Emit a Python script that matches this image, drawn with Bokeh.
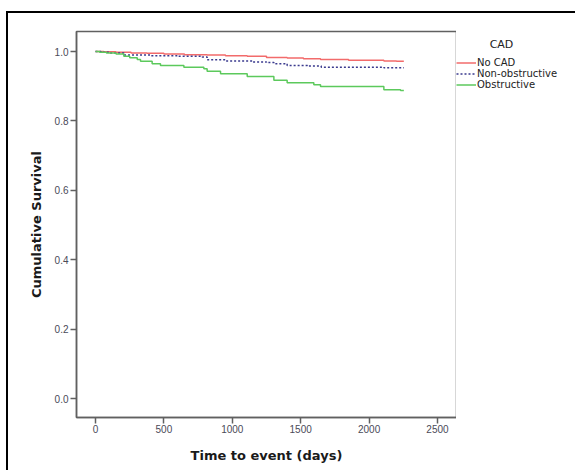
from bokeh.plotting import figure
from bokeh.layouts import row
from bokeh.models import Range1d, Legend, LegendItem, Label, FixedTicker
from bokeh.embed import file_html
from bokeh.resources import INLINE

# Kaplan-Meier step data (time in days, cumulative survival)
time_no_cad = [0, 60, 150, 260, 377, 500, 650, 816, 950, 1109, 1250, 1401, 1520, 1645, 1850, 2108, 2200, 2254]
surv_no_cad = [1.0, 0.999, 0.998, 0.996, 0.995, 0.993, 0.991, 0.990, 0.988, 0.986, 0.983, 0.981, 0.979, 0.977, 0.975, 0.973, 0.972, 0.972]

time_nonobs = [0, 40, 100, 207, 400, 600, 780, 816, 950, 1150, 1250, 1304, 1401, 1550, 1650, 2108, 2254]
surv_nonobs = [1.0, 0.998, 0.996, 0.990, 0.988, 0.986, 0.984, 0.976, 0.973, 0.970, 0.968, 0.965, 0.960, 0.958, 0.955, 0.953, 0.953]

time_obs = [0, 30, 80, 150, 207, 250, 305, 329, 414, 475, 646, 792, 816, 914, 1109, 1304, 1401, 1596, 1645, 2108, 2230, 2254]
surv_obs = [1.0, 0.998, 0.996, 0.993, 0.986, 0.982, 0.977, 0.972, 0.965, 0.960, 0.955, 0.950, 0.943, 0.936, 0.928, 0.917, 0.910, 0.904, 0.899, 0.890, 0.888, 0.888]

series_names = ["No CAD", "Non-obstructive", "Obstructive"]
series_colors = ["#f26b6b", "#3a3a8e", "#5cc95c"]
series_dash = ["solid", "2 2", "solid"]
legend_title = "CAD"

x_ticks = [0, 500, 1000, 1500, 2000, 2500]
x_tick_labels = ["0", "500", "1000", "1500", "2000", "2500"]
y_ticks = [0.0, 0.2, 0.4, 0.6, 0.8, 1.0]
y_tick_labels = ["0.0", "0.2", "0.4", "0.6", "0.8", "1.0"]

WP, H, WL = 450, 459, 119

p = figure(width=WP, height=H, output_backend="svg", toolbar_location=None,
           x_range=Range1d(-139, 2639), y_range=Range1d(-0.054, 1.0576),
           min_border_left=68, min_border_right=2, min_border_top=18, min_border_bottom=55,
           background_fill_color="white", border_fill_color="white")
p.styles = {"margin-top": "11px", "margin-left": "6px",
            "border-top": "2px solid black", "border-left": "2px solid black"}

series = [(time_no_cad, surv_no_cad), (time_nonobs, surv_nonobs), (time_obs, surv_obs)]
for (t, s), c, d in zip(series, series_colors, series_dash):
    p.step(t, s, mode="after", line_color=c, line_width=1.5, line_dash=d)

p.xgrid.visible = False
p.ygrid.visible = False
p.outline_line_color = "#606060"
p.outline_line_width = 1.5

for ax in (p.xaxis[0], p.yaxis[0]):
    ax.axis_line_color = "#606060"
    ax.axis_line_width = 1.5
    ax.major_tick_line_color = "#606060"
    ax.major_tick_line_width = 1.5
    ax.major_tick_in = 0
    ax.major_tick_out = 6
    ax.minor_tick_line_color = None
    ax.major_label_text_font = "Liberation Sans"
    ax.major_label_text_font_size = "10px"
    ax.major_label_text_color = "#4a4a58"
    ax.axis_label_text_font = "DejaVu Sans"
    ax.axis_label_text_font_style = "bold"
    ax.axis_label_text_font_size = "13px"
    ax.axis_label_text_color = "#1a1a1a"

p.xaxis.ticker = FixedTicker(ticks=x_ticks)
p.yaxis.ticker = FixedTicker(ticks=y_ticks)
p.xaxis.major_label_overrides = dict(zip(x_ticks, x_tick_labels))
p.yaxis.major_label_overrides = dict(zip(y_ticks, y_tick_labels))
p.xaxis.axis_label = "Time to event (days)"
p.yaxis.axis_label = "Cumulative Survival"
p.xaxis.major_label_standoff = 1
p.yaxis.major_label_standoff = 2
p.xaxis.axis_label_standoff = 12
p.yaxis.axis_label_standoff = 8

# legend panel (separate canvas so the legend is not clipped by the plot frame)
lf = figure(width=WL, height=H, output_backend="svg", toolbar_location=None,
            x_range=Range1d(0, WL), y_range=Range1d(H, 0),
            x_axis_location=None, y_axis_location=None, min_border=0,
            outline_line_color=None, background_fill_color="white", border_fill_color="white")
lf.grid.visible = False
lf.styles = {"margin-top": "11px", "border-top": "2px solid black"}

items = []
for name, (t, s), c, d in zip(series_names, series, series_colors, series_dash):
    # single-vertex proxy renderer: draws nothing, provides the legend glyph style
    r = lf.line(x=t[:1], y=s[:1], line_color=c, line_width=1.5, line_dash=d)
    items.append(LegendItem(label=name, renderers=[r]))

legend = Legend(items=items, location=(0, 327),
                margin=0, padding=0, glyph_width=20, glyph_height=11, label_height=11,
                label_standoff=1, spacing=0, border_line_color=None, background_fill_alpha=0,
                label_text_font="DejaVu Sans", label_text_font_size="10px", label_text_color="#222222")
lf.add_layout(legend, "center")
lf.add_layout(Label(x=45, y=16, text=legend_title, text_align="center", text_baseline="middle",
                    text_font="DejaVu Sans", text_font_size="11px", text_color="#222222"))

layout = row(p, lf, spacing=0)
open("out.html", "w").write(file_html(layout, INLINE))
